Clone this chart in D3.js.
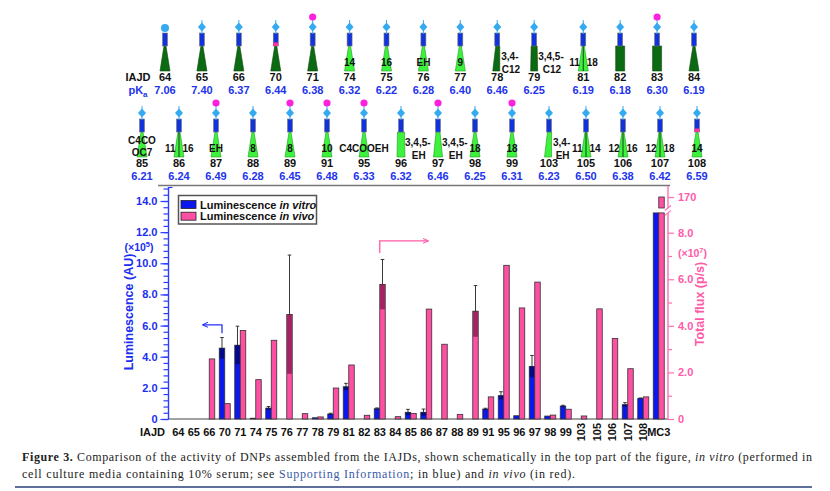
<!DOCTYPE html>
<html>
<head>
  <meta charset="utf-8">
  <style>
  body { margin: 0; background: #fff; }
  svg { font-family: Arial, "Liberation Sans", sans-serif; }
  .bar { stroke: #333; stroke-width: 0.8; }
  .err { stroke: #222; stroke-width: 0.9; fill: none; }
  .axis-l text { fill: #1a2ef0; font-size: 11px; font-weight: bold; }
  .axis-l line { stroke: #2a3cff; stroke-width: 1.2; }
  .axis-r text { fill: #ff5aa8; font-size: 11px; font-weight: bold; }
  .axis-r line { stroke: #ff6fb5; stroke-width: 1.2; }
  .xlab { font-size: 11px; font-weight: bold; fill: #111; }
  .sid { font-size: 11px; font-weight: bold; fill: #111; }
  .spka { font-size: 11px; font-weight: bold; fill: #2233ee; }
  .slab { font-size: 10px; font-weight: bold; fill: #111; }
  .caption { font-family: "Liberation Serif", "DejaVu Serif", serif; font-size: 12px; fill: #222; }
  </style>
</head>
<body>
<script src="https://d3js.org/d3.v7.min.js"></script>
<script>
// bar chart data: in vitro (x10^5 AU, left axis), in vivo (x10^7 p/s, right axis)
var categories = ["64","65","66","70","71","74","75","76","77","78","79","81","82","83","84","85",
                  "86","87","88","89","91","95","96","97","98","99","103","105","106","107","108","MC3"];
var vitro    = [0, 0, 0, 4.55, 4.74, 0.05, 0.70, 0, 0, 0.08, 0.32, 2.07, 0, 0.66, 0, 0.43,
                0.43, 0, 0, 0, 0.64, 1.50, 0.21, 3.38, 0.19, 0.83, 0, 0, 0, 0.92, 1.32, 13.2];
var vitroErr = [0, 0, 0, 0.68, 1.22, 0, 0.10, 0, 0, 0, 0.05, 0.22, 0, 0.05, 0, 0.19,
                0.21, 0, 0, 0, 0.05, 0.25, 0, 0.70, 0, 0.05, 0, 0, 0, 0.13, 0.03, 1.07];
var vivo     = [0, 0, 2.58, 0.66, 3.80, 1.69, 3.38, 4.49, 0.23, 0.09, 1.33, 2.32, 0.16, 5.78, 0.10, 0.24,
                4.72, 3.21, 0.20, 4.63, 0.95, 6.60, 4.77, 5.88, 0.17, 0.42, 0.13, 4.73, 3.46, 2.16, 0.95, 170];
var vivoErr  = [0, 0, 0, 0, 0, 0, 0, 2.55, 0, 0, 0, 0, 0, 1.07, 0, 0,
                0, 0, 0, 1.10, 0, 0, 0, 0, 0, 0, 0, 0, 0, 0, 0, 0];
var leftTicks = [0, 2, 4, 6, 8, 10, 12, 14];
var rightTicks = [0, 2, 4, 6, 8];
var rightMinor = [1, 3, 5, 7];
var breakTick = 170;
var rotatedLabels = ["103","105","106","107","108"];

// schematic rows
var row1Ids   = ["64","65","66","70","71","74","75","76","77","78","79","81","82","83","84"];
var row1Pka   = ["7.06","7.40","6.37","6.44","6.38","6.32","6.22","6.28","6.40","6.46","6.25","6.19","6.18","6.30","6.19"];
var row1Tail  = ["dt","dt","dt","dt","dt","lt","lt","lt","lt","dtrapR","dtrap","lsplit","drect","drect","dt"];
var row1Label = ["","","","","","14","16","EH","9","3,4-|C12","3,4,5-|C12","11|18","","",""];
var row1Dot   = [0,0,0,0,1,0,0,0,0,0,0,0,0,1,0];
var row1Tip   = [0,0,0,1,0,0,0,0,0,0,0,0,0,0,0];
var row1Head  = ["circle","diamond","diamond","diamond","diamond","diamond","diamond","diamond",
                 "diamond","diamond","diamond","diamond","diamond","diamond","diamond"];

var row2Ids   = ["85","86","87","88","89","91","95","96","97","98","99","103","105","106","107","108"];
var row2Pka   = ["6.21","6.24","6.49","6.28","6.45","6.48","6.33","6.32","6.46","6.25","6.31","6.23","6.50","6.38","6.42","6.59"];
var row2Tail  = ["lt","lsplit","lt","lt","lt","lt","lt","lrect","ltrap","lt","lt","ltrapR","lsplit","lsplit","lsplit","lt"];
var row2Label = ["C4CO|OC7","11|16","EH","8","8","10","C4COOEH","3,4,5-|EH","3,4,5-|EH","18","18","3,4-|EH","11|14","12|16","12|18","14"];
var row2Dot   = [0,0,1,0,1,1,1,0,1,0,1,0,0,0,0,0];
var row2Tip   = [0,0,0,0,0,0,0,0,0,0,0,0,0,0,0,1];

var width = 830, height = 491;
var blue = "#0a18ee", pink = "#ff4fa3";

var svg = d3.select("body").append("svg")
    .attr("width", width)
    .attr("height", height);

// ---------- schematic ----------
var tailShapes = {
  dt:     [[-1,46],[1,46],[5,71],[-5,71]],
  lt:     [[-1,46],[1,46],[5,71],[-5,71]],
  lsplit: [[-1,46],[1,46],[5,71],[-5,71]],
  dtrapR: [[-1.5,46],[2.5,46],[2.5,71],[-4.5,71]],
  dtrap:  [[-3,46],[3,46],[3.5,71],[-3.5,71]],
  drect:  [[-4.5,46],[4.5,46],[4.5,71],[-4.5,71]],
  lrect:  [[-3.5,46],[3.5,46],[4,71],[-4,71]],
  ltrap:  [[-2,46],[2,46],[4.5,71],[-4.5,71]],
  ltrapR: [[-1.5,46],[2.5,46],[2.5,71],[-4.5,71]]
};

// gapAfter: index after which the row leaves some extra room (for the wide side labels)
function drawRow(ids, pka, tail, label, dot, tip, head, x0, x1, top, gapAfter, gap) {
  var n = ids.length;
  var xs = d3.scaleLinear().domain([0, n - 1 + gap]).range([x0, x1]);
  ids.forEach(function(id, i) {
    var px = xs(i + (gapAfter >= 0 && i > gapAfter ? gap : 0));
    var g = svg.append("g").attr("transform", "translate(" + px + "," + top + ")");
    var t = tail[i];
    var dark = t.charAt(0) === "d";
    g.append("polygon")
        .attr("points", tailShapes[t].map(function(p) { return p.join(","); }).join(" "))
        .attr("fill", dark ? "#0b6a12" : "#3df23d")
        .attr("stroke", dark ? "#0a4a0a" : "#1f9a1f")
        .attr("stroke-width", 0.6);
    if (t === "lsplit") {
      g.append("line").attr("x1", 0).attr("x2", 0).attr("y1", 46).attr("y2", 71)
          .attr("stroke", "#111").attr("stroke-width", 0.8);
    }
    g.append("rect").attr("x", -2.5).attr("y", 33).attr("width", 5).attr("height", 13)
        .attr("fill", "#1133dd").attr("stroke", "#777").attr("stroke-width", 0.6);
    if (tip[i]) {
      g.append("rect").attr("x", -2.5).attr("y", 42.5).attr("width", 5).attr("height", 3.5)
          .attr("fill", "#ff3399");
    }
    if (head && head[i] === "circle") {
      g.append("circle").attr("cx", 0).attr("cy", 28).attr("r", 4).attr("fill", "#35aaf0");
    } else {
      g.append("line").attr("x1", 0).attr("x2", 0).attr("y1", 20).attr("y2", 34)
          .attr("stroke", "#35aaf0").attr("stroke-width", 1);
      g.append("path").attr("d", "M0,22.5L4,27L0,31.5L-4,27Z").attr("fill", "#35aaf0");
    }
    if (dot[i]) {
      g.append("circle").attr("cx", 0).attr("cy", 17).attr("r", 3.6).attr("fill", "#ff22dd");
    }

    // labels on the tail
    var lab = label[i];
    if (lab) {
      var parts = lab.split("|");
      if (t === "lsplit") {
        g.append("text").attr("class", "slab").attr("x", -3.5).attr("y", 66)
            .attr("text-anchor", "end").text(parts[0]);
        g.append("text").attr("class", "slab").attr("x", 3.5).attr("y", 66)
            .attr("text-anchor", "start").text(parts[1]);
      } else if (t === "lt" || t === "dt") {
        if (parts.length === 2) {
          g.append("text").attr("class", "slab").attr("x", 0).attr("y", 57.5)
              .attr("text-anchor", "middle").text(parts[0]);
          g.append("text").attr("class", "slab").attr("x", 0).attr("y", 69.5)
              .attr("text-anchor", "middle").text(parts[1]);
        } else {
          g.append("text").attr("class", "slab").attr("x", 0).attr("y", 66)
              .attr("text-anchor", "middle").text(parts[0]);
        }
      } else {
        var l1 = g.append("text").attr("class", "slab").attr("x", 4).attr("y", 60)
            .attr("text-anchor", "start").text(parts[0]);
        var w1 = l1.node().getComputedTextLength();
        g.append("text").attr("class", "slab").attr("x", 4 + w1 / 2 + 1).attr("y", 73)
            .attr("text-anchor", "middle").text(parts[1]);
      }
    }
    g.append("text").attr("class", "sid").attr("x", 0).attr("y", 81)
        .attr("text-anchor", "middle").text(id);
    g.append("text").attr("class", "spka").attr("x", 0).attr("y", 94)
        .attr("text-anchor", "middle").text(pka[i]);
  });
}

drawRow(row1Ids, row1Pka, row1Tail, row1Label, row1Dot, row1Tip, row1Head, 165, 694, 0, 10, 0.33);
drawRow(row2Ids, row2Pka, row2Tail, row2Label, row2Dot, row2Tip, null, 142, 697, 86, -1, 0);

svg.append("text").attr("class", "sid").attr("x", 138).attr("y", 81)
    .attr("text-anchor", "middle").text("IAJD");
var pk = svg.append("text").attr("class", "spka").attr("x", 138).attr("y", 94)
    .attr("text-anchor", "middle");
pk.append("tspan").text("pK");
pk.append("tspan").attr("dy", 3).attr("font-size", "8px").text("a");

// ---------- chart ----------
var x = d3.scaleBand().domain(categories).range([170.5, 666.5])
    .paddingInner(0.29).paddingOuter(0.145);
var bw = x.bandwidth() / 2;
var yL = d3.scaleLinear().domain([0, 14]).range([419, 201]);
var yR = d3.scaleLinear().domain([0, 8]).range([419, 232.7]);
var yTop = d3.scaleLinear().domain([160, 180]).range([208, 186]);
var breakLow = 8.85;
var axL = 168.5, axR = 668;

// frame top line + baseline
svg.append("line").attr("x1", 158).attr("x2", axR + 2).attr("y1", 185.5).attr("y2", 185.5)
    .attr("stroke", "#777").attr("stroke-width", 1.5);
svg.append("line").attr("x1", axL).attr("x2", axR).attr("y1", yL(0)).attr("y2", yL(0))
    .attr("stroke", "#444").attr("stroke-width", 1);

// bars
function drawSeries(vals, errs, y, off, color, darkFill) {
  var g = svg.append("g");
  vals.forEach(function(v, i) {
    var c = categories[i];
    var bx = x(c) + off;
    if (v > breakLow) {
      g.append("rect").attr("class", "bar").attr("x", bx).attr("width", bw)
          .attr("y", yR(breakLow)).attr("height", yR(0) - yR(breakLow)).attr("fill", color);
      g.append("rect").attr("class", "bar").attr("x", bx).attr("width", bw)
          .attr("y", yTop(v)).attr("height", yTop(160) - yTop(v)).attr("fill", color);
      return;
    }
    g.append("rect").attr("class", "bar").attr("x", bx).attr("width", bw)
        .attr("y", y(v)).attr("height", Math.max(0, y(0) - y(v))).attr("fill", color);
    var e = errs[i];
    if (e > 0) {
      var cx = bx + bw / 2;
      g.append("rect").attr("x", bx + 0.4).attr("width", bw - 0.8)
          .attr("y", y(v)).attr("height", y(v - e) - y(v))
          .attr("fill", darkFill).attr("opacity", 0.55);
      g.append("line").attr("class", "err").attr("x1", cx).attr("x2", cx)
          .attr("y1", y(v)).attr("y2", y(v + e));
      g.append("line").attr("class", "err").attr("x1", cx - 1.8).attr("x2", cx + 1.8)
          .attr("y1", y(v + e)).attr("y2", y(v + e));
    }
  });
}
drawSeries(vitro, vitroErr, yL, 0, blue, "#000033");
drawSeries(vivo, vivoErr, yR, bw, pink, "#5a0030");

// left axis
var gL = svg.append("g").attr("class", "axis-l").attr("transform", "translate(" + axL + ",0)")
    .call(d3.axisLeft(yL).tickValues(leftTicks).tickSize(8).tickPadding(3)
      .tickFormat(function(d) { return d === 0 ? "0" : d3.format(".1f")(d); }));
gL.select(".domain").remove();
var gLm = svg.append("g").attr("class", "axis-l").attr("transform", "translate(" + axL + ",0)")
    .call(d3.axisLeft(yL).tickValues(d3.range(0, 14.9, 0.4)).tickSize(5).tickFormat(""));
gLm.select(".domain").remove();
svg.append("line").attr("x1", axL).attr("x2", axL).attr("y1", yL(0)).attr("y2", 187)
    .attr("stroke", "#2a3cff").attr("stroke-width", 1.4);
svg.append("line").attr("x1", axL).attr("x2", axL + 4).attr("y1", 187.5).attr("y2", 187.5)
    .attr("stroke", "#2a3cff").attr("stroke-width", 1.2);

svg.append("text").attr("transform", "translate(133,312) rotate(-90)")
    .attr("text-anchor", "middle").attr("fill", "#1a2ef0")
    .attr("font-size", "12.5px").attr("font-weight", "bold").text("Luminescence (AU)");
var mL = svg.append("text").attr("x", 139).attr("y", 251).attr("text-anchor", "middle")
    .attr("fill", "#1a2ef0").attr("font-size", "10.5px").attr("font-weight", "bold");
mL.append("tspan").text("(×10");
mL.append("tspan").attr("dy", -4).attr("font-size", "7.5px").text("5");
mL.append("tspan").attr("dy", 4).text(")");

// right axis
var gR = svg.append("g").attr("class", "axis-r").attr("transform", "translate(" + axR + ",0)")
    .call(d3.axisRight(yR).tickValues(rightTicks).tickSize(6).tickPadding(4)
      .tickFormat(function(d) { return d === 0 ? "0" : d3.format(".1f")(d); }));
gR.select(".domain").remove();
var gRm = svg.append("g").attr("class", "axis-r").attr("transform", "translate(" + axR + ",0)")
    .call(d3.axisRight(yR).tickValues(rightMinor).tickSize(4).tickFormat(""));
gRm.select(".domain").remove();
var gRt = svg.append("g").attr("class", "axis-r").attr("transform", "translate(" + axR + ",0)")
    .call(d3.axisRight(yTop).tickValues([breakTick]).tickSize(6).tickPadding(4));
gRt.select(".domain").remove();
svg.append("line").attr("x1", axR).attr("x2", axR).attr("y1", yR(0)).attr("y2", yR(breakLow))
    .attr("stroke", "#ff6fb5").attr("stroke-width", 1.4);
svg.append("line").attr("x1", axR).attr("x2", axR).attr("y1", yTop(160)).attr("y2", yTop(180))
    .attr("stroke", "#ff6fb5").attr("stroke-width", 1.4);
[yR(breakLow), yTop(160)].forEach(function(yy) {
  svg.append("line").attr("x1", axR - 3).attr("x2", axR + 3).attr("y1", yy + 2.5).attr("y2", yy - 2.5)
      .attr("stroke", "#ff6fb5").attr("stroke-width", 1.2);
});

svg.append("text").attr("transform", "translate(704,304) rotate(-90)")
    .attr("text-anchor", "middle").attr("fill", "#ff5aa8")
    .attr("font-size", "12.5px").attr("font-weight", "bold").text("Total flux (p/s)");
var mR = svg.append("text").attr("x", 678).attr("y", 257).attr("text-anchor", "start")
    .attr("fill", "#ff5aa8").attr("font-size", "10.5px").attr("font-weight", "bold");
mR.append("tspan").text("(×10");
mR.append("tspan").attr("dy", -4).attr("font-size", "7.5px").text("7");
mR.append("tspan").attr("dy", 4).text(")");

// x labels
svg.append("text").attr("class", "xlab").attr("x", 165).attr("y", 436)
    .attr("text-anchor", "end").text("IAJD");
categories.forEach(function(c) {
  var cx = x(c) + x.bandwidth() / 2;
  if (rotatedLabels.indexOf(c) >= 0) {
    svg.append("text").attr("class", "xlab")
        .attr("transform", "translate(" + (cx + 4) + ",423) rotate(-90)")
        .attr("text-anchor", "end").text(c);
  } else {
    svg.append("text").attr("class", "xlab").attr("x", cx).attr("y", 436)
        .attr("text-anchor", "middle").text(c);
  }
});

// arrows
svg.append("defs").selectAll("marker").data([["ahB", "#2233ff"], ["ahP", "#ff5aa8"]])
  .enter().append("marker")
    .attr("id", function(d) { return d[0]; })
    .attr("viewBox", "0 0 10 10").attr("refX", 8).attr("refY", 5)
    .attr("markerWidth", 5).attr("markerHeight", 5).attr("orient", "auto")
  .append("path").attr("d", "M0,1L9,5L0,9").attr("fill", "none")
    .attr("stroke", function(d) { return d[1]; }).attr("stroke-width", 1.6);
var ax70 = x("70") + bw / 2;
svg.append("path")
    .attr("d", "M" + ax70 + "," + yL(5.5) + "V" + yL(6.05) + "H" + (ax70 - 19))
    .attr("fill", "none").attr("stroke", "#2233ff").attr("stroke-width", 1.3)
    .attr("marker-end", "url(#ahB)");
var ax83 = x("83") + x.bandwidth() / 2;
svg.append("path")
    .attr("d", "M" + ax83 + "," + yR(7.13) + "V" + yR(7.65) + "H" + (ax83 + 48))
    .attr("fill", "none").attr("stroke", "#ff5aa8").attr("stroke-width", 1.3)
    .attr("marker-end", "url(#ahP)");

// legend
var lg = svg.append("g");
lg.append("rect").attr("x", 178.5).attr("y", 195.5).attr("width", 138).attr("height", 28.5)
    .attr("fill", "#fff").attr("stroke", "#555").attr("stroke-width", 1.5);
[[blue, "in vitro"], [pink, "in vivo"]].forEach(function(d, i) {
  lg.append("rect").attr("x", 181).attr("y", 200.5 + i * 11.7).attr("width", 15).attr("height", 8)
      .attr("fill", d[0]).attr("stroke", "#222").attr("stroke-width", 0.8);
  var t = lg.append("text").attr("x", 200).attr("y", 208.5 + i * 11.7)
      .attr("font-size", "11px").attr("font-weight", "bold").attr("fill", "#111");
  t.append("tspan").text("Luminescence ");
  t.append("tspan").attr("font-style", "italic").text(d[1]);
});

// caption
var c1 = svg.append("text").attr("class", "caption").attr("x", 22).attr("y", 461)
    .attr("textLength", 790).attr("lengthAdjust", "spacing");
c1.append("tspan").attr("font-weight", "bold").text("Figure 3.");
c1.append("tspan").text(" Comparison of the activity of DNPs assembled from the IAJDs, shown schematically in the top part of the figure, ");
c1.append("tspan").attr("font-style", "italic").text("in vitro");
c1.append("tspan").text(" (performed in");
var c2 = svg.append("text").attr("class", "caption").attr("x", 22).attr("y", 478)
    .attr("textLength", 553).attr("lengthAdjust", "spacing");
c2.append("tspan").text("cell culture media containing 10% serum; see ");
c2.append("tspan").attr("fill", "#3a5aa8").text("Supporting Information");
c2.append("tspan").text("; in blue) and ");
c2.append("tspan").attr("font-style", "italic").text("in vivo");
c2.append("tspan").text(" (in red).");
svg.append("line").attr("x1", 15).attr("x2", 812).attr("y1", 487).attr("y2", 487)
    .attr("stroke", "#2a3f7a").attr("stroke-width", 1.6);
</script>
</body>
</html>
